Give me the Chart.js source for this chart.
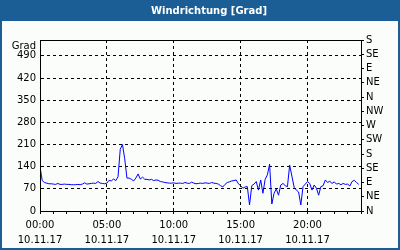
<!DOCTYPE html>
<html>
<head>
<meta charset="utf-8">
<script src="https://cdn.jsdelivr.net/npm/chart.js@4"></script>
<style>
  html, body { margin: 0; padding: 0; background: #fff; }
</style>
</head>
<body>
<canvas id="myChart" width="400" height="250"></canvas>
<script>
// wind direction, one value every 10 minutes from 00:00
var sampleMinutes = 10;
var direction = [
    140, 96, 90, 88, 86, 86,      // 00:00
    85, 84, 87, 84, 84, 85,       // 01:00
    84, 84, 83, 83, 83, 84,       // 02:00
    83, 85, 89, 85, 86, 87,       // 03:00
    88, 87, 93, 88, 87, 86,       // 04:00
    88, 97, 95, 101, 96, 108,     // 05:00
    195, 210, 165, 104, 104, 100, // 06:00
    95, 104, 117, 101, 107, 100,  // 07:00
    100, 98, 100, 96, 98, 97,     // 08:00
    93, 92, 90, 89, 88, 88,       // 09:00
    89, 87, 88, 88, 87, 90,       // 10:00
    88, 87, 91, 88, 86, 87,       // 11:00
    88, 87, 89, 88, 87, 90,       // 12:00
    88, 87, 85, 80, 76, 84,       // 13:00
    90, 92, 95, 96, 98, 86,       // 14:00
    80, 72, 76, 77, 19, 80,       // 15:00
    85, 93, 66, 98, 56, 100,      // 16:00
    114, 148, 22, 56, 70, 50,     // 17:00
    82, 87, 80, 77, 145, 110,     // 18:00
    75, 66, 60, 19, 77, 85,       // 19:00
    93, 87, 66, 82, 72, 50,       // 20:00
    77, 80, 98, 90, 94, 87,       // 21:00
    92, 85, 87, 83, 87, 84,       // 22:00
    85, 79, 93, 97, 90, 84        // 23:00
];

var hourLabels = ["00:00", "05:00", "10:00", "15:00", "20:00"];
var dateLabel = "10.11.17";
var gradTicks = [0, 70, 140, 210, 280, 350, 420, 490];
var compassDegrees = [0, 45, 90, 135, 180, 225, 270, 315, 360, 405, 450, 495, 540];
var compassLabels = ["N", "NE", "E", "SE", "S", "SW", "W", "NW", "N", "NE", "E", "SE", "S"];
var chartTitle = "Windrichtung [Grad]";
var unitLabel = "Grad";

var headerBlue = '#1b5e95';

var points = direction.map(function(d, i){
    return {x: i * sampleMinutes / 60, y: d};
});

Chart.defaults.font.family = '"DejaVu Sans", sans-serif';
Chart.defaults.font.size = 10;
Chart.defaults.color = '#000';

// header bar, outer frame, unit text and the plot box
var frame = {
    id: 'frame',
    beforeDraw: function(chart){
        var c = chart.ctx;
        c.save();
        c.fillStyle = '#fbfdfb';
        c.fillRect(0, 0, 400, 250);
        c.fillStyle = headerBlue;
        c.fillRect(0, 0, 400, 21);
        c.strokeStyle = headerBlue;
        c.lineWidth = 2;
        c.strokeRect(1, 1, 398, 248);
        c.fillStyle = '#fff';
        c.font = 'bold 10px "DejaVu Sans"';
        c.textAlign = 'center';
        c.textBaseline = 'middle';
        c.fillText(chartTitle, 209, 11);
        c.fillStyle = '#000';
        c.font = '10px "DejaVu Sans"';
        c.textAlign = 'right';
        c.fillText(unitLabel, 36, 46);
        c.restore();
    },
    afterDraw: function(chart){
        var a = chart.chartArea;
        var c = chart.ctx;
        c.save();
        c.strokeStyle = '#000';
        c.lineWidth = 1;
        c.setLineDash([]);
        c.strokeRect(a.left + 0.5, a.top + 0.5, a.right - a.left, a.bottom - a.top);
        c.restore();
    }
};

var ctx = document.getElementById('myChart').getContext('2d');
var chart = new Chart(ctx, {
    type: 'line',
    data: {
        datasets: [{
            data: points,
            borderColor: '#0000ff',
            borderWidth: 1,
            pointRadius: 0,
            tension: 0,
            fill: false,
            xAxisID: 'x',
            yAxisID: 'y'
        }]
    },
    options: {
        responsive: false,
        animation: false,
        devicePixelRatio: 1,
        layout: { padding: { top: 40, left: 0, right: 0, bottom: 0 } },
        plugins: {
            legend: { display: false },
            tooltip: { enabled: false },
            title: { display: false }
        },
        scales: {
            x: {
                type: 'linear',
                min: 0,
                max: 24,
                afterFit: function(s){ s.height = 39; },
                ticks: {
                    stepSize: 1,
                    autoSkip: false,
                    maxRotation: 0,
                    padding: 4,
                    font: { size: 10, lineHeight: 1.5 },
                    callback: function(v){
                        if (v % 5 === 0 && v < 24) return [hourLabels[v / 5], dateLabel];
                        return '';
                    }
                },
                grid: {
                    color: function(c){
                        var v = c.tick ? c.tick.value : 0;
                        return (v % 5 === 0 && v > 0 && v < 24) ? '#000' : 'rgba(0,0,0,0)';
                    },
                    tickColor: '#000',
                    tickLength: 3,
                    lineWidth: 1
                },
                border: { color: '#000', dash: [3, 3] }
            },
            y: {
                position: 'left',
                min: 0,
                max: 540,
                afterFit: function(s){ s.width = 40; },
                afterBuildTicks: function(s){
                    s.ticks = gradTicks.map(function(v){ return {value: v}; });
                },
                ticks: { padding: 4, autoSkip: false },
                grid: { color: '#000', drawTicks: false },
                border: { color: '#000', dash: [3, 3] }
            },
            y2: {
                position: 'right',
                min: 0,
                max: 540,
                afterFit: function(s){ s.width = 39; },
                afterBuildTicks: function(s){
                    s.ticks = compassDegrees.map(function(v){ return {value: v}; });
                },
                ticks: {
                    padding: 2,
                    autoSkip: false,
                    callback: function(v, i){ return compassLabels[i]; }
                },
                grid: { drawOnChartArea: false, color: '#000', tickLength: 3 },
                border: { color: '#000' }
            }
        }
    },
    plugins: [frame]
});
</script>
</body>
</html>
